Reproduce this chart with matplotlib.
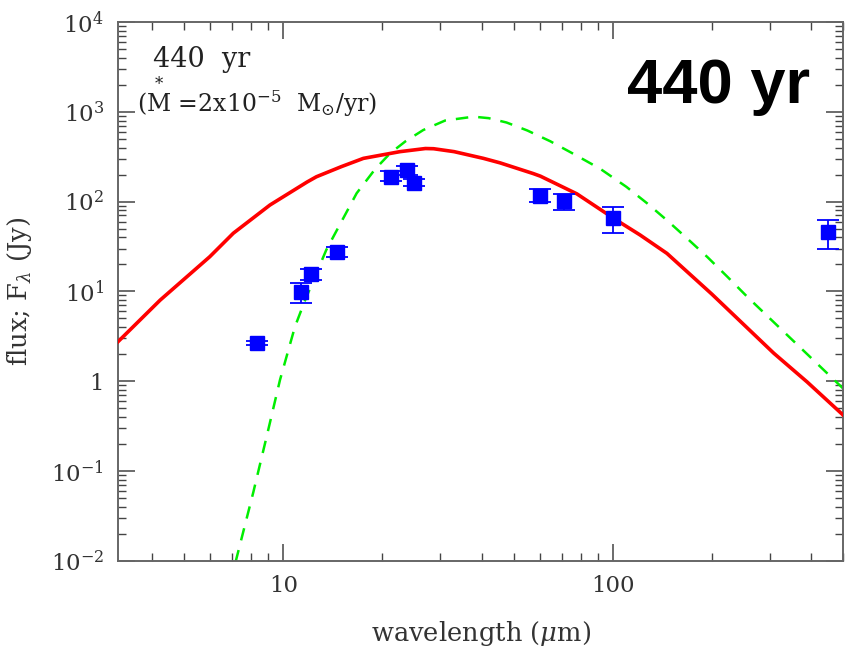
import matplotlib
matplotlib.use('Agg')
import matplotlib.pyplot as plt
from matplotlib.ticker import FixedLocator, LogLocator, NullFormatter, FixedFormatter

# model SED (red, solid)
model_wl = [3.15, 4.23, 5.98, 7.05, 9.11, 11.8, 12.6, 15.0, 17.5, 22.6, 27.0, 28.6,
            33.0, 40.5, 45.5, 57.4, 60.3, 77.8, 102.0, 121.0, 146.0, 200.0, 308.0, 389.0, 500.0]
model_flux = [2.75, 8.0, 24.3, 44.4, 91.6, 165.0, 189.0, 245.0, 303.0, 360.0, 390.0, 388.0,
              360.0, 303.0, 270.0, 205.0, 192.0, 122.0, 63.0, 42.5, 26.5, 9.3, 2.05, 0.98, 0.42]

# blackbody fit (green, dashed)
bb_wl = [6.9, 7.18, 8.11, 8.91, 9.77, 10.85, 11.65, 13.5, 16.7, 19.0, 21.1, 23.5, 26.6,
         31.0, 37.8, 42.0, 47.6, 55.0, 64.6, 76.0, 91.6, 110.0, 127.0, 146.0, 168.0,
         194.0, 223.0, 256.0, 350.0, 500.0]
bb_flux = [0.0055, 0.01, 0.058, 0.245, 1.03, 4.05, 8.0, 28.9, 124.0, 230.0, 345.0, 470.0, 627.0,
           800.0, 883.0, 850.0, 760.0, 620.0, 470.0, 340.0, 232.0, 146.0, 96.0, 62.0, 39.0,
           24.0, 14.5, 8.7, 2.9, 0.83]

# observed photometry
obs_wl = [8.3, 11.3, 12.1, 14.6, 21.3, 23.7, 25.0, 60.0, 71.0, 100.0, 449.0]
obs_flux = [2.64, 9.9, 15.5, 27.2, 189.0, 225.0, 162.0, 116.0, 102.0, 65.0, 45.5]
obs_lo = [2.5, 7.5, 13.4, 24.0, 169.0, 200.0, 148.0, 98.0, 81.0, 45.0, 29.7]
obs_hi = [2.8, 12.5, 17.6, 31.0, 221.0, 249.0, 180.0, 138.0, 122.0, 87.0, 62.0]

ytick_vals = [1e-2, 1e-1, 1, 10, 100, 1e3, 1e4]
ytick_labels = ['$10^{-2}$', '$10^{-1}$', '1', '$10^{1}$', '$10^{2}$', '$10^{3}$', '$10^{4}$']
xtick_vals = [10, 100]
xtick_labels = ['10', '100']

plt.rcParams['font.family'] = 'DejaVu Serif'
plt.rcParams['mathtext.fontset'] = 'dejavuserif'

fig = plt.figure(figsize=(8.46, 6.48), dpi=100)
ax = fig.add_axes([0.1395, 0.1347, 0.857, 0.8313])

ax.plot(model_wl, model_flux, color='#ff0000', lw=2.6, solid_joinstyle='round', zorder=3)
ax.plot(bb_wl, bb_flux, color='#00ee00', lw=1.8, dashes=(5, 4), zorder=2)

yerr = [[f - lo for f, lo in zip(obs_flux, obs_lo)], [hi - f for f, hi in zip(obs_flux, obs_hi)]]
ax.errorbar(obs_wl, obs_flux, yerr=yerr, fmt='s', color='#0000ff', ms=9.5, mec='#0000ff',
            ecolor='#0000ff', elinewidth=1.3, capsize=8, capthick=1.3, zorder=4)

ax.set_xscale('log')
ax.set_yscale('log')
ax.set_xlim(3.15, 500)
ax.set_ylim(1e-2, 1e4)

ax.xaxis.set_major_locator(FixedLocator(xtick_vals))
ax.xaxis.set_major_formatter(FixedFormatter(xtick_labels))
ax.yaxis.set_major_locator(FixedLocator(ytick_vals))
ax.yaxis.set_major_formatter(FixedFormatter(ytick_labels))
ax.xaxis.set_minor_locator(LogLocator(base=10, subs=range(2, 10)))
ax.yaxis.set_minor_locator(LogLocator(base=10, subs=range(2, 10), numticks=20))
ax.xaxis.set_minor_formatter(NullFormatter())
ax.yaxis.set_minor_formatter(NullFormatter())

ax.tick_params(which='both', direction='in', top=True, right=True, colors='#444444',
               labelcolor='#333333', labelsize=16.5)
ax.tick_params(which='major', length=12, width=1.1, pad=10)
ax.tick_params(which='minor', length=6, width=1.0)
for sp in ax.spines.values():
    sp.set_color('#666666')
    sp.set_linewidth(1.4)

ax.set_xlabel(r'wavelength ($\mu$m)', fontsize=18.5, color='#333333', labelpad=16)
ax.set_ylabel(r'flux; F$_\lambda$ (Jy)', fontsize=18.5, color='#333333', labelpad=12)

ax.text(0.048, 0.931, '440  yr', transform=ax.transAxes, fontsize=19.5, color='#222222',
        ha='left', va='center')
# M with a star above it, as in the original label
ax.text(0.026, 0.862, r'($\overset{*}{\rm M}$ =2x10$^{-5}$  M$_{\odot}$/yr)', transform=ax.transAxes,
        fontsize=17, color='#222222', ha='left', va='center')
ax.text(0.829, 0.880, '440 yr', transform=ax.transAxes, fontsize=45.5, fontweight='bold',
        family='Liberation Sans', color='black', ha='center', va='center')

fig.savefig('out.png', dpi=100)
